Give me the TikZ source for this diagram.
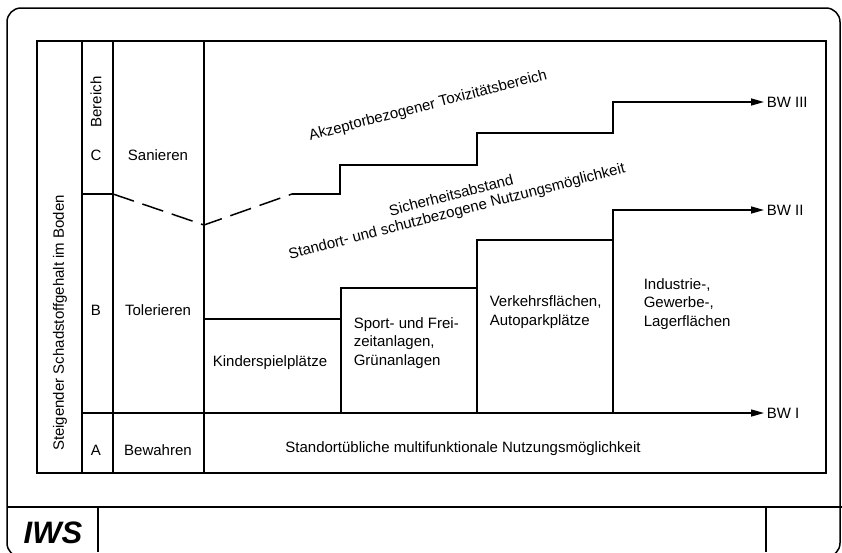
\documentclass[tikz,border=0pt]{standalone}
\usepackage{fontspec}
\setmainfont{Liberation Sans}
\usetikzlibrary{arrows.meta}

\begin{document}
\begin{tikzpicture}[x=1pt, y=-1pt, line width=1.5pt,
  lbl/.style={font=\fontsize{15}{18.5}\selectfont, inner sep=0pt},
  txt/.style={lbl, align=left, anchor=west},
  slant/.style={lbl, rotate=14.5},
  bw/.style={lbl, anchor=west, inner sep=2pt},
  limit/.style={-{Triangle[length=13pt,width=7pt]}},
  gap/.style={dash pattern=on 22pt off 9pt}]
  \useasboundingbox (0,0) rectangle (842,552);
  \clip (0,0) rectangle (842,552);
  % sheet
  \draw[rounded corners=14pt] (7,8) rectangle (840,557);
  \draw (7,507) -- (842,507);
  \draw (98,507) -- (98,552);
  \draw (766,507) -- (766,552);
  \node[font=\fontsize{31}{31}\selectfont\bfseries\itshape, inner sep=0pt] (iws) at (53,533) {IWS};
  % table
  \draw (37,41) rectangle (826,473);
  \foreach \x in {82,113,204}
    \draw (\x,41) -- (\x,473);
  \draw (82,194) -- (113,194);
  \draw (82,413) -- (204,413);
  \node[lbl, rotate=90] (axis) at (60,323) {Steigender Schadstoffgehalt im Boden};
  \node[lbl, rotate=90] (bereich) at (96,102) {Bereich};
  \foreach \n/\lab/\act/\y in {c/C/Sanieren/155, b/B/Tolerieren/310, a/A/Bewahren/450} {
    \node[lbl] (\n) at (96,\y) {\lab};
    \node[lbl] (\n act) at (158,\y) {\act};
  }
  % limits
  \node[bw] (bw3) at (764,102) {BW III};
  \node[bw] (bw2) at (764,210) {BW II};
  \node[bw] (bw1) at (764,413) {BW I};
  \draw[gap] (113,194) -- (204,225) -- (292,194);
  \draw[limit] (292,194) -| (340,165) -| (477,133) -| (613,102) -- (bw3.west);
  \draw[limit] (204,319) -| (341,288) -| (477,240) -| (613,210) -- (bw2.west);
  \draw[limit] (204,413) -- (bw1.west);
  \foreach \x/\y in {341/288, 477/240, 613/210}
    \draw (\x,\y) -- (\x,413);
  % uses
  \node[lbl] (kinder) at (270,363) {Kinderspielplätze};
  \node[txt] (sport) at (353,343) {Sport- und Frei-\\zeitanlagen,\\Grünanlagen};
  \node[txt] (verkehr) at (489,312) {Verkehrsflächen,\\Autoparkplätze};
  \node[txt] (industrie) at (643,304) {Industrie-,\\Gewerbe-,\\Lagerflächen};
  \node[lbl] (multi) at (463,449) {Standortübliche multifunktionale Nutzungsmöglichkeit};
  \node[slant] (tox) at (428,106) {Akzeptorbezogener Toxizitätsbereich};
  \node[slant] (abstand) at (451,195) {Sicherheitsabstand};
  \node[slant] (schutz) at (457,212) {Standort- und schutzbezogene Nutzungsmöglichkeit};
\end{tikzpicture}
\end{document}
